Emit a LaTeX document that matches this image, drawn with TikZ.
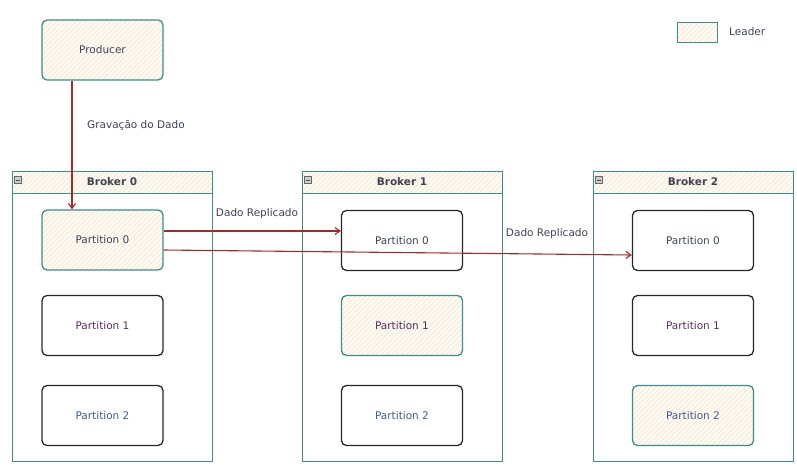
\documentclass[tikz,border=0pt]{standalone}
\usepackage{fontspec}
\setmainfont{DejaVu Sans}
\usetikzlibrary{arrows.meta,patterns.meta,positioning}
\definecolor{teal1}{HTML}{3A8F8A}
\definecolor{hatch}{HTML}{F6DDBF}
\definecolor{hatchbg}{HTML}{FFFBF5}
\definecolor{arrred}{HTML}{A8282A}
\definecolor{txt}{HTML}{3E4456}
\definecolor{txtp}{HTML}{5B2A66}
\definecolor{txtb}{HTML}{3A5A9A}
\tikzset{
  hatchfill/.style={preaction={fill=hatchbg},pattern={Lines[angle=45,distance=3.5pt,line width=0.5pt]},pattern color=hatch},
  part/.style={draw=black!85,line width=1.3pt,rounded corners=5pt,minimum width=121pt,minimum height=60pt,inner sep=0pt,font=\fontsize{10.5}{12}\selectfont,text=txt},
  leader/.style={part,draw=teal1,hatchfill},
  broker/.style={draw=teal1,line width=0.9pt,minimum width=200pt,minimum height=290pt,inner sep=0pt},
  bhead/.style={draw=teal1,line width=0.9pt,hatchfill,minimum width=200pt,minimum height=22pt,inner sep=0pt,font=\fontsize{10.5}{12}\selectfont\bfseries,text=txt},
  minus/.style={draw=black!60,fill=black!20,minimum size=7pt,inner sep=0pt,line width=0.5pt},
  arr/.style={draw=arrred,line width=1.1pt,-{Straight Barb[length=5pt,width=7pt]}},
  lbl/.style={font=\fontsize{10.5}{12}\selectfont,text=txt,inner sep=0pt}
}
\begin{document}
\begin{tikzpicture}[x=1pt,y=-1pt]
\useasboundingbox (0,0) rectangle (797,469);
% Legend
\node[draw=teal1,line width=1pt,hatchfill,minimum width=40pt,minimum height=20pt,inner sep=0pt] (leg) at (697,32) {};
\node[lbl,anchor=west] (legt) at (729,32) {Leader};
% Producer
\node[leader] (prod) at (102.5,50) {Producer};
% Brokers
\foreach \i/\x in {0/112,1/402,2/693}{
  \node[broker] (b\i) at (\x,316) {};
  \node[bhead] (b\i h) at (\x,182) {Broker \i};
  \node[minus] (b\i m) at (\x-94,180) {};
  \draw[black!70,line width=0.7pt] ([xshift=-2pt]b\i m.center) -- ([xshift=2pt]b\i m.center);
}
% Partitions
\node[leader] (p00) at (102.5,240) {Partition 0};
\node[part] (p01) at (102.5,325.5) {\textcolor{txtp}{Partition 1}};
\node[part] (p02) at (102.5,415.5) {\textcolor{txtb}{Partition 2}};
\node[part] (p10) at (402,240.5) {Partition 0};
\node[leader] (p11) at (402,325.5) {\textcolor{txtp}{Partition 1}};
\node[part] (p12) at (402,415.5) {\textcolor{txtb}{Partition 2}};
\node[part] (p20) at (693,240.5) {Partition 0};
\node[part] (p21) at (693,325.5) {\textcolor{txtp}{Partition 1}};
\node[leader] (p22) at (693,415.5) {\textcolor{txtb}{Partition 2}};
% Arrows
\draw[arr] ([xshift=-30.5pt]prod.south) -- ([xshift=-30.5pt]p00.north);
\node[lbl,anchor=west] (g) at (87,125) {Gravação do Dado};
\draw[arr] ([yshift=9pt]p00.east) -- ([yshift=9.5pt]p10.west);
\node[lbl] (r1) at (257,214) {Dado Replicado};
\draw[arr] ([yshift=-10pt]p00.east) -- ([yshift=-14.5pt]p20.west);
\node[lbl] (r2) at (547,234) {Dado Replicado};
\end{tikzpicture}
\end{document}
